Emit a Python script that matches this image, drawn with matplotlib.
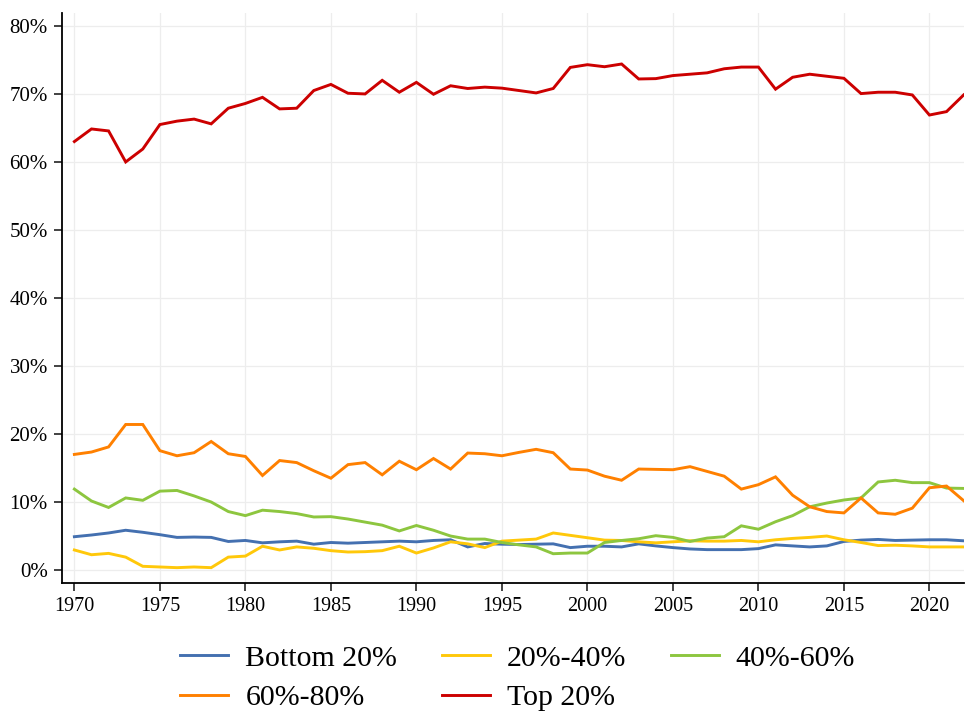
import matplotlib
matplotlib.use("Agg")
import matplotlib.pyplot as plt
from matplotlib.ticker import FuncFormatter, MultipleLocator

years = list(range(1970, 2023))

bottom20 = [4.9, 5.15, 5.45, 5.85, 5.55, 5.2, 4.8, 4.85, 4.8, 4.2,
            4.35, 4.0, 4.15, 4.25, 3.8, 4.05, 3.95, 4.05, 4.15, 4.25,
            4.15, 4.35, 4.45, 3.4, 3.9, 3.8, 3.75, 3.8, 3.85, 3.3,
            3.5, 3.5, 3.4, 3.85, 3.55, 3.3, 3.1, 3.0, 3.0, 3.0,
            3.15, 3.7, 3.55, 3.4, 3.55, 4.2, 4.4, 4.5, 4.35, 4.4,
            4.45, 4.45, 4.3]

q20_40 = [2.95, 2.25, 2.45, 1.9, 0.55, 0.45, 0.35, 0.45, 0.35, 1.9,
          2.05, 3.5, 2.95, 3.4, 3.2, 2.85, 2.65, 2.7, 2.85, 3.5,
          2.5, 3.25, 4.15, 3.85, 3.3, 4.25, 4.4, 4.55, 5.45, 5.1,
          4.75, 4.4, 4.35, 4.15, 4.0, 4.15, 4.3, 4.25, 4.25, 4.35,
          4.15, 4.45, 4.65, 4.8, 5.0, 4.45, 4.05, 3.6, 3.65, 3.55,
          3.4, 3.4, 3.4]

q40_60 = [11.9, 10.15, 9.2, 10.6, 10.25, 11.6, 11.7, 10.9, 10.0, 8.6,
          8.0, 8.8, 8.6, 8.3, 7.8, 7.85, 7.5, 7.05, 6.6, 5.75,
          6.55, 5.85, 5.0, 4.55, 4.55, 4.05, 3.7, 3.4, 2.4, 2.5,
          2.5, 4.05, 4.35, 4.6, 5.05, 4.8, 4.2, 4.7, 4.9, 6.5,
          6.0, 7.1, 8.0, 9.3, 9.85, 10.3, 10.6, 12.95, 13.2, 12.85,
          12.85, 12.05, 12.0]

q60_80 = [17.0, 17.35, 18.1, 21.4, 21.4, 17.55, 16.8, 17.25, 18.9, 17.1,
          16.7, 13.9, 16.1, 15.8, 14.6, 13.5, 15.5, 15.8, 14.0, 16.0,
          14.75, 16.4, 14.85, 17.2, 17.1, 16.8, 17.3, 17.75, 17.25, 14.85,
          14.7, 13.8, 13.2, 14.85, 14.8, 14.75, 15.2, 14.5, 13.8, 11.9,
          12.55, 13.7, 11.0, 9.3, 8.6, 8.4, 10.6, 8.4, 8.2, 9.1,
          12.1, 12.35, 10.2]

top20 = [63.0, 64.85, 64.56, 60.0, 61.9, 65.5, 66.0, 66.3, 65.6, 67.9,
         68.6, 69.5, 67.8, 67.9, 70.5, 71.4, 70.1, 70.0, 72.0, 70.25,
         71.7, 69.95, 71.2, 70.8, 71.0, 70.85, 70.5, 70.15, 70.8, 73.9,
         74.3, 74.0, 74.4, 72.2, 72.25, 72.7, 72.9, 73.1, 73.7, 73.95,
         73.95, 70.7, 72.45, 72.9, 72.6, 72.3, 70.05, 70.25, 70.25, 69.85,
         66.9, 67.4, 69.85]

labels = ["Bottom 20%", "20%-40%", "40%-60%", "60%-80%", "Top 20%"]
colors = ["#4470B0", "#FFC80A", "#8DC63F", "#FF8000", "#CC0000"]
series = [bottom20, q20_40, q40_60, q60_80, top20]

plt.rcParams['font.family'] = ['Liberation Serif', 'DejaVu Serif']

fig = plt.figure(figsize=(9.66, 7.11), dpi=100)
ax = fig.add_axes([0.0639, 0.1796, 0.934, 0.8026])

lines = []
for vals, lab, col in zip(series, labels, colors):
    ln, = ax.plot(years, vals, color=col, lw=2.1, label=lab, solid_joinstyle='miter')
    lines.append(ln)

ax.set_xlim(1969.26, 2022.02)
ax.set_ylim(-1.95, 81.95)
ax.xaxis.set_major_locator(MultipleLocator(5))
ax.yaxis.set_major_locator(MultipleLocator(10))
ax.yaxis.set_major_formatter(FuncFormatter(lambda v, p: f"{v:.0f}%"))

ax.grid(True, color="#EDEDED", lw=0.9)
ax.set_axisbelow(True)
for s in ["top", "right"]:
    ax.spines[s].set_visible(False)
for s in ["left", "bottom"]:
    ax.spines[s].set_linewidth(1.3)
    ax.spines[s].set_color("black")
ax.tick_params(axis='both', direction='out', length=6, width=1.2, color='#222222', pad=4)
ax.tick_params(axis='x', labelsize=14.5)
ax.tick_params(axis='y', labelsize=15)

# row-major legend order: matplotlib fills columns first
order = [0, 3, 1, 4, 2]
fig.legend([lines[i] for i in order], [labels[i] for i in order],
           loc='upper center', bbox_to_anchor=(0.536, 0.093), ncol=3,
           frameon=False, fontsize=21.5, handlelength=1.6, handletextpad=0.57,
           columnspacing=1.5, labelspacing=0.42, borderpad=0, borderaxespad=0)

fig.savefig("out.png", dpi=100)
